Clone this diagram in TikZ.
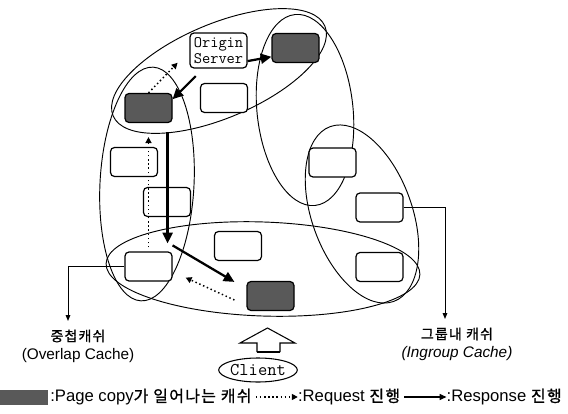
\documentclass[tikz,border=0pt]{standalone}
\usepackage{fontspec}
\setmainfont{Liberation Sans}
\newfontfamily\kr{Noto Sans CJK KR}[LetterSpace=8,FakeBold=1]
\usetikzlibrary{arrows.meta,calc,shapes.geometric}
\begin{document}
\begin{tikzpicture}[x=0.75pt,y=-0.75pt,
  ell/.style={line width=0.7pt},
  box/.style={draw,line width=0.9pt,rounded corners=3pt,fill=white,minimum width=35.25pt,minimum height=21.75pt,inner sep=0pt},
  dark/.style={box,fill=black!65},
  resp/.style={line width=1.7pt,-{Triangle[length=8pt,width=7.5pt]}},
  req/.style={line width=1.1pt,dotted,-{Triangle[length=4.5pt,width=4.5pt]}},
  conn/.style={line width=0.7pt,-{Triangle[length=4.5pt,width=3.5pt]}},
  lab/.style={font=\fontsize{11.5}{13.5}\selectfont,align=center,inner sep=0pt},
  mono/.style={font=\ttfamily\fontsize{12}{12.5}\selectfont},
  lg/.style={font=\fontsize{12.5}{14}\selectfont,inner sep=0pt}]
\useasboundingbox (0,0) rectangle (568,414);

% groups (ellipses)
\draw[ell,rotate around={23:(219,71)}] (219,71) ellipse [x radius=115,y radius=47];
\draw[ell,rotate around={-3:(147,184)}] (147,184) ellipse [x radius=47,y radius=117];
\draw[ell,rotate around={6:(305,110)}] (305,110) ellipse [x radius=48,y radius=96];
\draw[ell,rotate around={20:(362,214)}] (362,214) ellipse [x radius=50,y radius=93];
\draw[ell,rotate around={-2:(263,269)}] (263,269) ellipse [x radius=157,y radius=47];

% caches
\node[box,mono,align=center,minimum width=42.75pt,minimum height=26.25pt] (origin) at (218.5,50.5) {Origin\\Server};
\node[dark] (d2) at (295.5,48) {};
\node[dark] (d1) at (148.5,108) {};
\node[box] (w0) at (224,98) {};
\node[box] (w1) at (134,162) {};
\node[box] (w2) at (167,202) {};
\node[box] (b1) at (148.5,266.5) {};
\node[box] (b2) at (238,246) {};
\node[dark] (d3) at (270.5,296) {};
\node[box] (r1) at (332.5,162.5) {};
\node[box] (r2) at (379.5,207.5) {};
\node[box] (r3) at (379.5,267) {};

% flows
\draw[resp] (origin.-20) -- (d2.200);
\draw[resp,shorten <=8pt] (origin.230) -- (d1.20);
\draw[req,shorten >=12.75pt] (d1.north) -- (origin.west);
\draw[req,shorten >=10.5pt,shorten <=3pt] (b1.north) -- (d1.south);
\draw[resp] ($(d1.south east)+(-5,9)$) -- ($(b1.north east)+(-5,-8)$);
\draw[resp] ($(b1.north east)+(0,-6)$) -- ($(d3.north west)+(-12,1)$);
\draw[req] ($(d3.west)+(-12,4)$) -- ($(b1.south east)+(13,-4)$);

% labels
\coordinate (c1) at (68,321);
\draw[conn] (b1.west) -| (c1);
\coordinate (c2) at (445,319);
\draw[conn] (r2.east) -| (c2);
\node[lab] (olab) at (78,346) {{\kr\fontsize{10.5}{13.5}\selectfont 중첩캐쉬}\\(Overlap Cache)};
\node[lab] (glab) at (457,344) {{\kr\fontsize{10.5}{13.5}\selectfont 그룹내 캐쉬}\\\textit{(Ingroup Cache)}};

% client
\node[draw,ellipse,line width=0.8pt,minimum width=54.75pt,minimum height=18pt,inner sep=0pt,font=\ttfamily\fontsize{13.5}{14}\selectfont] (client) at (258,370) {Client};
\draw[line width=0.8pt,fill=white] (257,352) -- (257,343) -- (240,343) -- (267.5,328) -- (295,343) -- (280,343) -- (280,352);
\draw[line width=2pt] (257,352) -- (280,352);

% legend
\node[fill=black!65,minimum width=36pt,minimum height=11.25pt,inner sep=0pt,anchor=west] (sw) at (0,397.5) {};
\node[lg,anchor=west] (t1) at (50,397) {:Page copy{\kr\fontsize{12}{14}\selectfont 가 일어나는 캐쉬}};
\node[lg,anchor=west] (t2) at ($(t1.east)+(46,0)$) {:Request {\kr\fontsize{12}{14}\selectfont 진행}};
\node[lg,anchor=west] (t3) at ($(t2.east)+(46,0)$) {:Response {\kr\fontsize{12}{14}\selectfont 진행}};
\draw[req,shorten <=3pt] (t1.east) -- (t2.west);
\draw[line width=1pt,-{Triangle[length=5pt,width=4.5pt]},shorten <=3pt] (t2.east) -- (t3.west);
\end{tikzpicture}
\end{document}
